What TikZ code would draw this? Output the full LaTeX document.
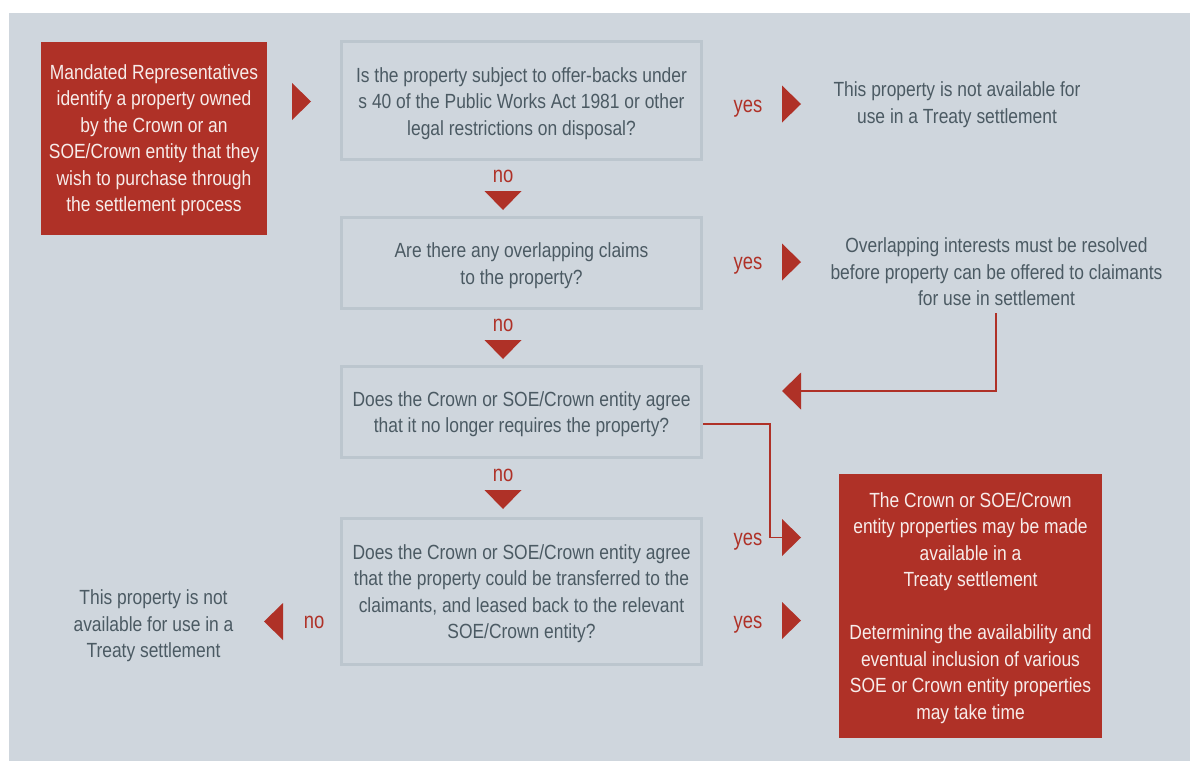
\documentclass[tikz,border=0pt]{standalone}
\usepackage{fontspec}
\setmainfont[FakeStretch=0.85]{Liberation Sans}
\newfontfamily\lblfont[FakeStretch=0.8]{Liberation Sans}
\usetikzlibrary{calc}
\definecolor{bg}{HTML}{CFD6DD}
\definecolor{rd}{HTML}{AF3127}
\definecolor{tx}{HTML}{4B5A63}
\definecolor{bd}{HTML}{BCC6CE}
\definecolor{wt}{HTML}{F7ECEA}

\begin{document}
\begin{tikzpicture}[x=1pt,y=-1pt,
  every node/.style={font=\fontsize{20.5}{26.5}\selectfont, align=center, inner sep=0pt},
  qbox/.style={draw=bd, line width=3pt, minimum width=360pt},
  redbox/.style={fill=rd},
  redtext/.style={text=wt},
  note/.style={text=tx},
  lbl/.style={text=rd, anchor=base, font=\lblfont\fontsize{23}{26}\selectfont},
  link/.style={draw=rd, line width=1.6pt},
  tri r/.pic={\fill[rd] (0,-18.5) -- (19,0) -- (0,18.5) -- cycle;},
  tri l/.pic={\fill[rd] (0,-18.5) -- (-19,0) -- (0,18.5) -- cycle;},
  tri d/.pic={\fill[rd] (-18.5,0) -- (18.5,0) -- (0,19) -- cycle;}]
\useasboundingbox (0,0) rectangle (1190,761);
\fill[white] (0,0) rectangle (1190,761);
\fill[bg] (9,13) rectangle (1190,761);

% starting point
\node[redbox, minimum width=226pt, minimum height=193pt] (start) at (154,138.5) {};
\node[redtext] (startt) at ($(start)+(0,1.5)$)
  {Mandated Representatives\\identify a property owned\\by the Crown or an\\SOE/Crown entity that they\\wish to purchase through\\the settlement process};

% question boxes
\node[qbox, minimum height=118pt] (q1) at (521.5,100.5) {};
\node[qbox, minimum height=91pt] (q2) at (521.5,263) {};
\node[qbox, minimum height=91pt] (q3) at (521.5,412) {};
\node[qbox, minimum height=146pt] (q4) at (521.5,591.5) {};
\node[note] (q1t) at ($(q1)+(0,3)$)
  {Is the property subject to offer-backs under\\s 40 of the Public Works Act 1981 or other\\legal restrictions on disposal?};
\node[note] (q2t) at ($(q2)+(0,2.5)$)
  {Are there any overlapping claims\\to the property?};
\node[note] (q3t) at ($(q3)+(0,2)$)
  {Does the Crown or SOE/Crown entity agree\\that it no longer requires the property?};
\node[note] (q4t) at ($(q4)+(0,2)$)
  {Does the Crown or SOE/Crown entity agree\\that the property could be transferred to the\\claimants, and leased back to the relevant\\SOE/Crown entity?};

% outcomes
\node[note] (n1) at (957,104.5)
  {This property is not available for\\use in a Treaty settlement};
\node[note] (n2) at (996.5,272)
  {Overlapping interests must be resolved\\before property can be offered to claimants\\for use in settlement};
\node[note] (n3) at (153.5,626)
  {This property is not\\available for use in a\\Treaty settlement};
\node[redbox, minimum width=263pt, minimum height=264pt] (ok) at (970.5,606) {};
\node[redtext] (okt) at ($(ok)+(0,2)$)
  {The Crown or SOE/Crown\\entity properties may be made\\available in a\\Treaty settlement\\[26.5pt]Determining the availability and\\eventual inclusion of various\\SOE or Crown entity properties\\may take time};

% arrow heads
\coordinate (a0) at (292,101.5);
\coordinate (y1) at (782,104);
\coordinate (y2) at (782,262);
\coordinate (back) at (801,391);
\coordinate (y3) at (782,537.5);
\coordinate (y4) at (782,620.5);
\coordinate (d1) at (503,191);
\coordinate (d2) at (503,340);
\coordinate (d3) at (503,490);
\coordinate (l4) at (283,621.5);
\pic at (a0) {tri r};
\pic at (y1) {tri r};
\pic at (y2) {tri r};
\pic at (y3) {tri r};
\pic at (y4) {tri r};
\pic at (back) {tri l};
\pic at (d1) {tri d};
\pic at (d2) {tri d};
\pic at (d3) {tri d};
\pic at (l4) {tri l};

% labels
\node[lbl] (ly1) at (748,112) {yes};
\node[lbl] (ly2) at (748,269) {yes};
\node[lbl] (ly3) at (748,545) {yes};
\node[lbl] (ly4) at (748,628) {yes};
\node[lbl] (ln1) at (503,182) {no};
\node[lbl] (ln2) at (503,331) {no};
\node[lbl] (ln3) at (503,481) {no};
\node[lbl] (ln4) at (314,628) {no};

% connectors
\draw[link] ($(n2.south)+(-0.5,7)$) |- (back);
\draw[link] ([yshift=-12pt]q3.east) -| ([xshift=-12pt]y3) -- (y3);
\end{tikzpicture}
\end{document}
